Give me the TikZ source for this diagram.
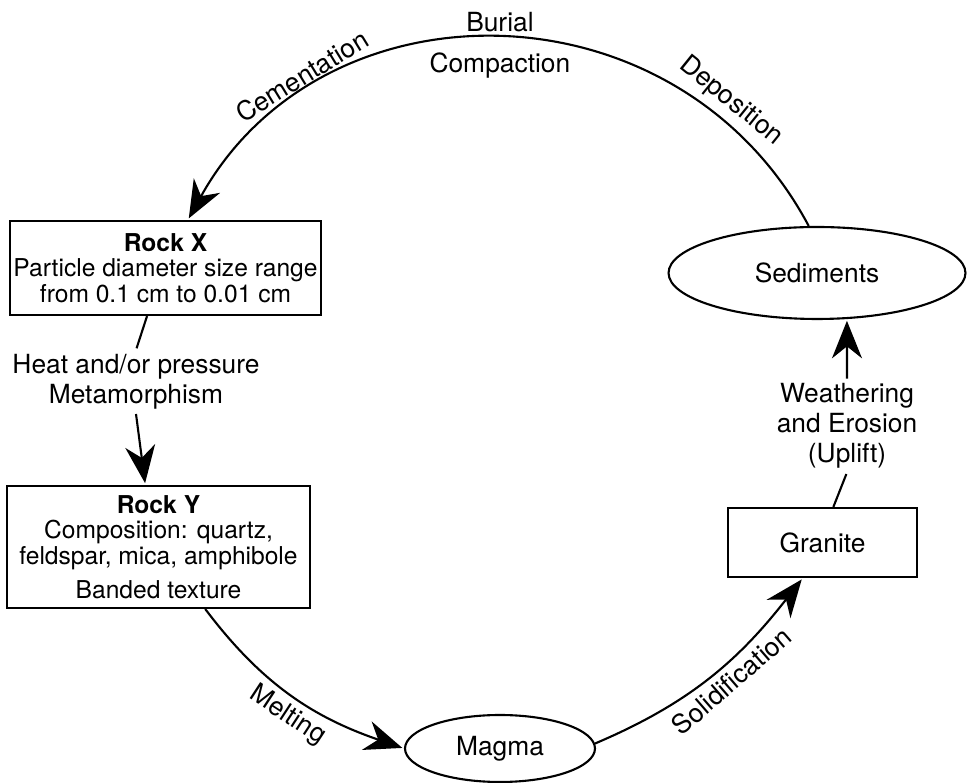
\documentclass[tikz,border=0pt]{standalone}
\usepackage{fontspec}
\setmainfont{TeX Gyre Heros}
\usetikzlibrary{arrows.meta,shapes.geometric}

\begin{document}
\begin{tikzpicture}[x=0.02cm,y=0.02cm,>={Stealth[length=0.75cm,width=0.6cm,inset=0.24cm]},shorten >=1pt,line width=1.2pt,
  font=\fontsize{15}{17}\selectfont,
  rock box/.style={rectangle,draw,align=center,inner sep=0pt,font=\fontsize{14}{14.5}\selectfont},
  rock oval/.style={ellipse,draw,inner sep=0pt},
  step label/.style={align=center,inner sep=2pt}]
  \useasboundingbox (0,0) rectangle (969,783);

  \node[rock box, minimum width=6.22cm, minimum height=1.88cm] (rockx) at (165.5,515)
    {\textbf{Rock X}\\Particle diameter size range\\from 0.1 cm to 0.01 cm};
  \node[rock box, minimum width=6.06cm, minimum height=2.44cm] (rocky) at (158.5,236)
    {\textbf{Rock Y}\\Composition: quartz,\\feldspar, mica, amphibole\\[5pt]Banded texture};
  \node[rock oval, minimum width=5.94cm, minimum height=1.84cm] (sed) at (817,510) {Sediments};
  \node[rock oval, minimum width=3.8cm, minimum height=1.34cm] (magma) at (500,34.5) {Magma};
  \node[rock box, minimum width=3.78cm, minimum height=1.38cm, font=\fontsize{15}{17}\selectfont] (granite) at (822.5,240.5) {Granite};

  \node[step label] (metam) at (136,401) {Heat and/or pressure\\Metamorphism};
  \node[step label] (weath) at (847,357.5) {Weathering\\and Erosion\\(Uplift)};

  % the cycle
  \draw[->] (sed.100) to[out=118,in=61,looseness=1.15]
    node[sloped,above,pos=0.18] {Deposition}
    node[above,pos=0.5] {Burial}
    node[below=4pt,pos=0.5] {Compaction}
    node[sloped,above,pos=0.77] {Cementation}
    (rockx.65);
  \draw (rockx.-111) -- (metam.north);
  \draw[->] (metam.south) -- (rocky.102);
  \draw[->] (rocky.-53) to[out=-53,in=161]
    node[sloped,below,pos=0.53] {Melting} (magma.west);
  \draw[->] (magma.3) to[out=23,in=-128]
    node[sloped,below,pos=0.55] {Solidification} (granite.-119);
  \draw (granite.73) -- (weath.south);
  \draw[->] (weath.north) -- (sed.-57);
\end{tikzpicture}
\end{document}
